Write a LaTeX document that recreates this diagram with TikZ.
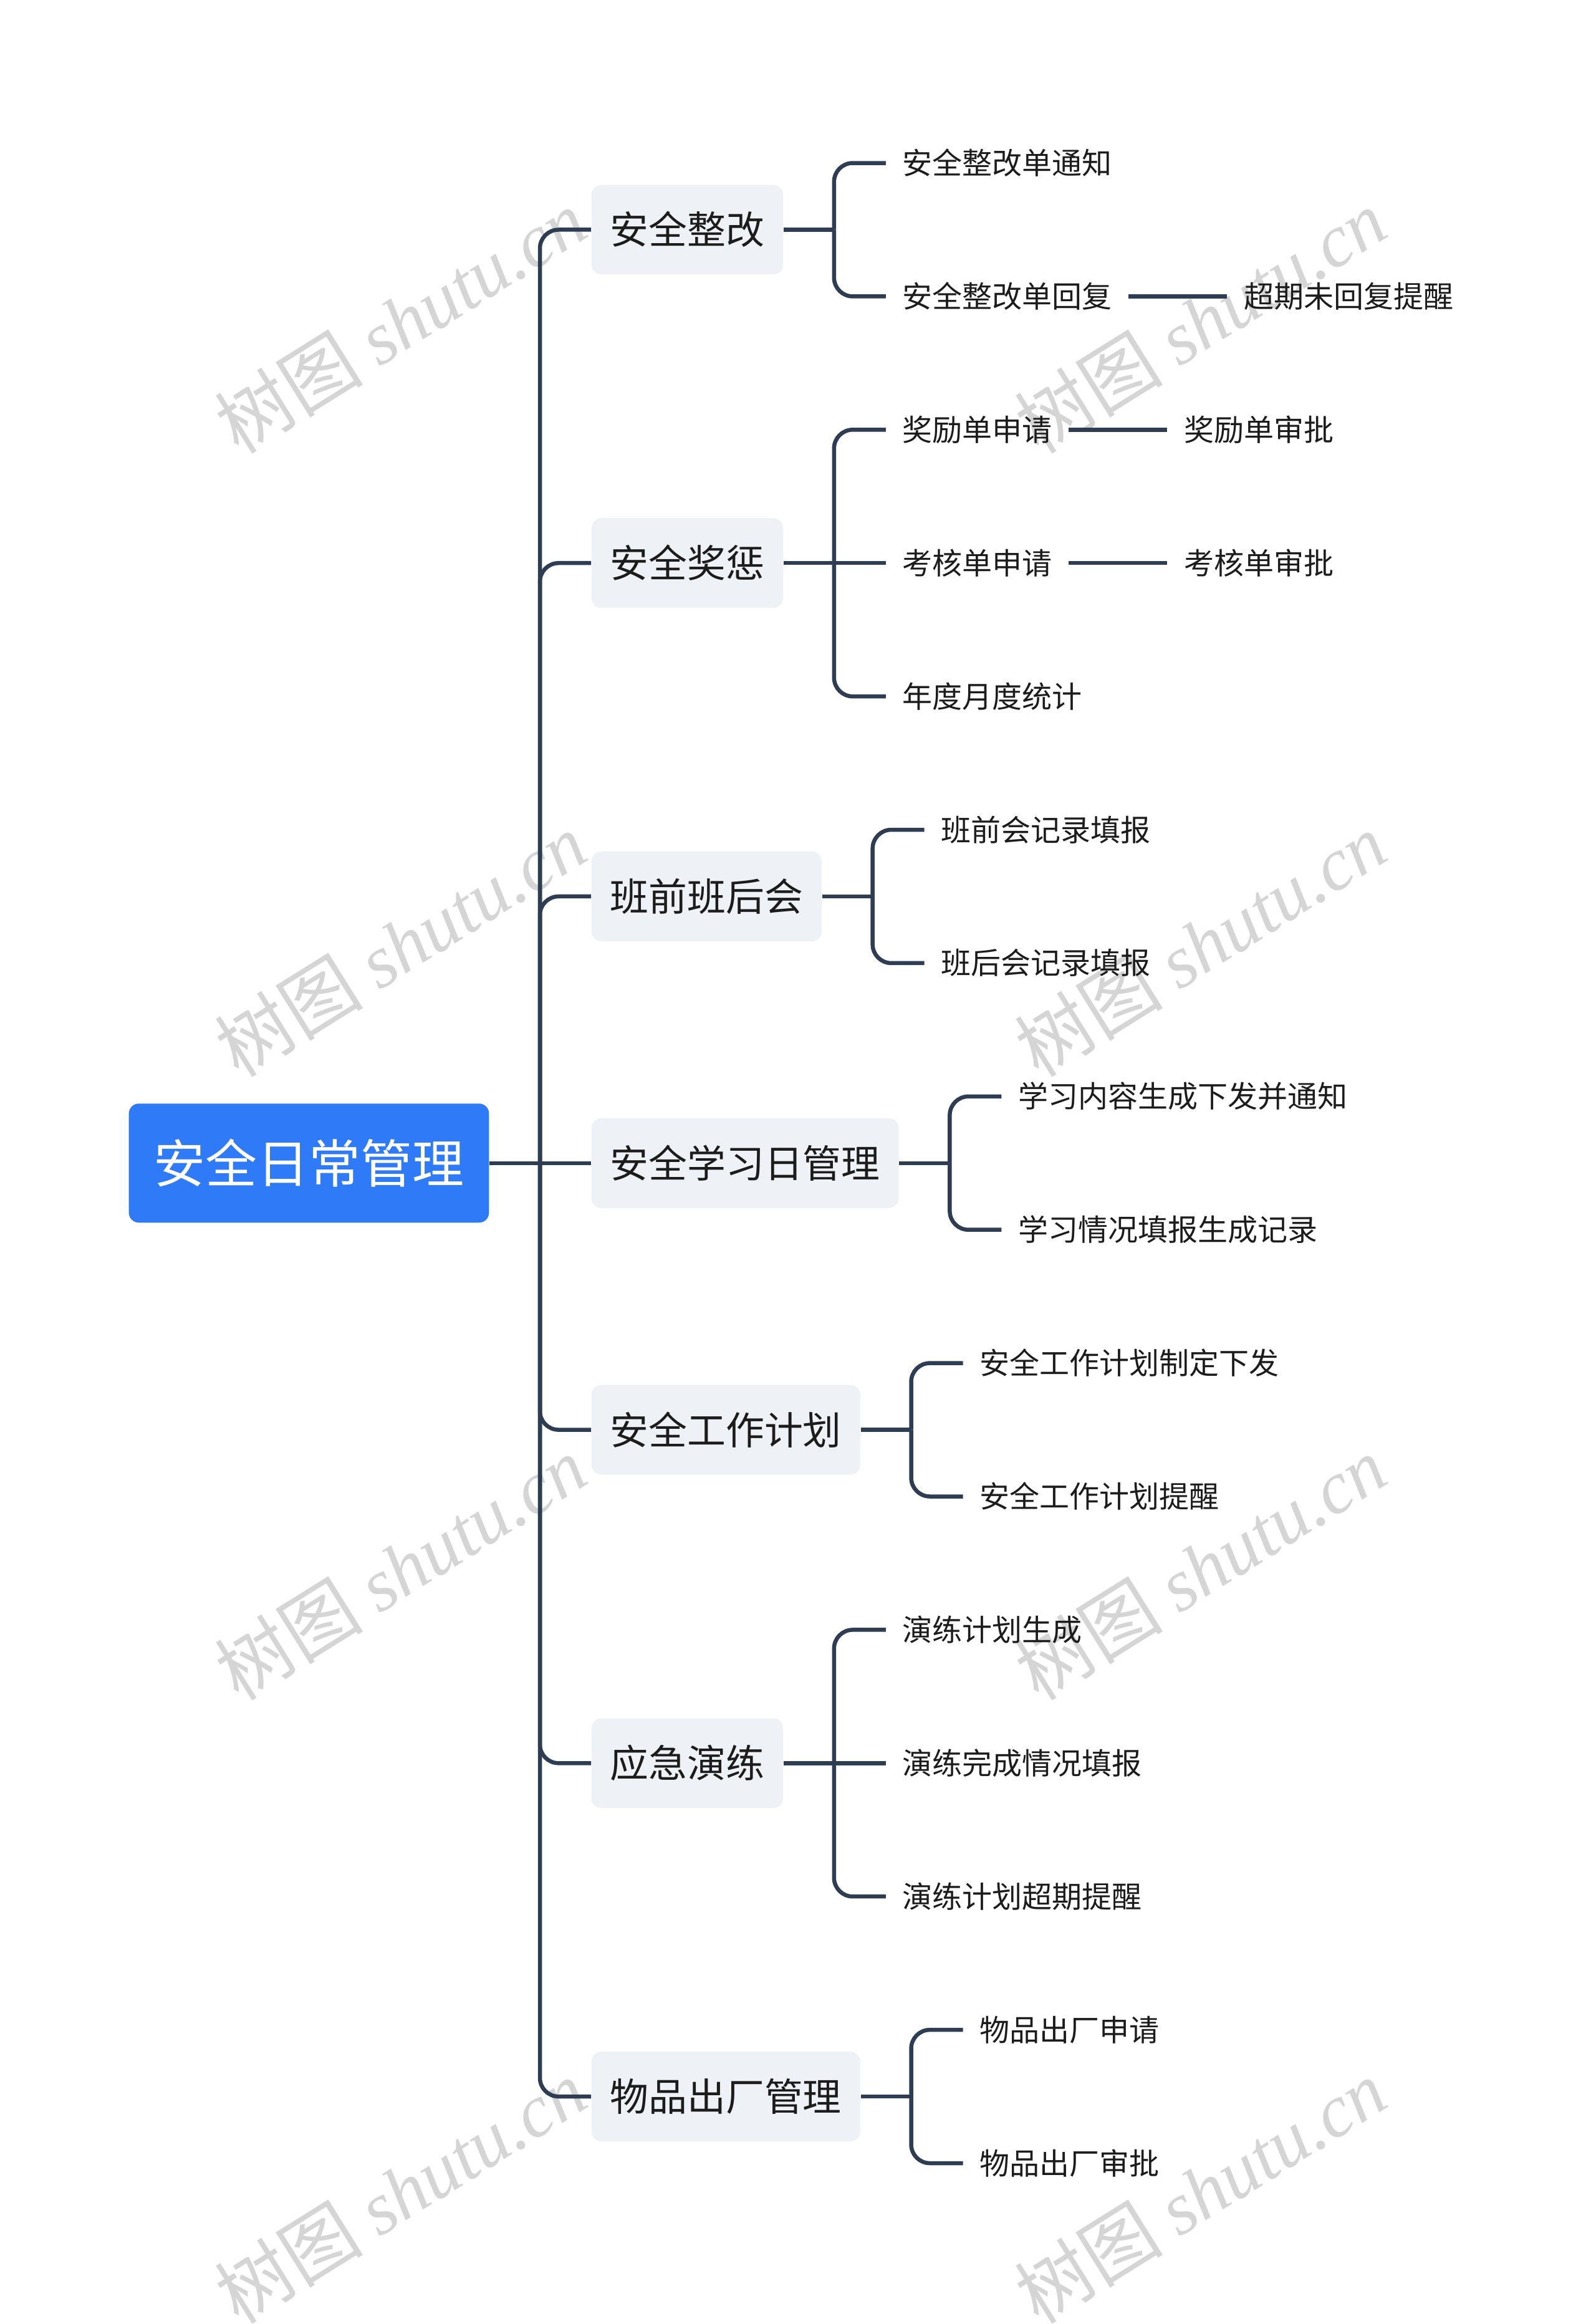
\documentclass[tikz,border=0pt]{standalone}
\usepackage{fontspec}
\usepackage{xcolor}
\usepackage{tikz}
\usetikzlibrary{calc,positioning}
\newfontfamily\cjk{Noto Sans CJK SC}
\newfontfamily\wmserif{Liberation Serif}
\definecolor{mapblue}{HTML}{2F7BF7}
\definecolor{mapline}{HTML}{2E3D52}
\definecolor{mapfill}{HTML}{EEF1F5}
\definecolor{maptext}{HTML}{1C1C1C}
\definecolor{mapmark}{HTML}{D5D5D5}
\tikzset{
rootbox/.style={
	rounded corners=0.16cm,
	fill=mapblue,
	text=white,
	inner xsep=0.40cm,
	minimum height=1.91cm,
	text height=0.73cm, text depth=0.10cm,
	font=\cjk\fontsize{23.6}{28}\selectfont
},
topicbox/.style={
	rounded corners=0.16cm,
	fill=mapfill,
	text=maptext,
	inner xsep=0.30cm,
	minimum height=1.44cm,
	text height=0.545cm, text depth=0.075cm,
	font=\cjk\fontsize{17.6}{21}\selectfont
},
leafbox/.style={
	text=maptext,
	inner xsep=0.26cm, inner ysep=0.08cm,
	text height=0.42cm, text depth=0.06cm,
	font=\cjk\fontsize{13.66}{16}\selectfont
},
branch/.style={draw=mapline, line width=0.065cm, rounded corners=0.3cm},
watermark/.style={text=mapmark, rotate=32, inner sep=0pt, font=\fontsize{34}{40}\selectfont}
}

\begin{document}
\begin{tikzpicture}[x=1cm,y=1cm]
\useasboundingbox (0,0) rectangle (25.6,-37.28);
\def\hr{1.0695} % half leaf row
\def\fr{2.139}  % full leaf row
\def\stem{0.81} % topic -> fork
\def\reach{0.83} % fork -> leaf

% ── Watermarks (behind everything) ─────────────────────────────
\foreach \wy in {0,1,2,3}{
 \foreach \wx [count=\wi] in {6.42,19.25}{
  \node[watermark] (wm\wi\wy) at (\wx,-5.15-10*\wy)
   {\cjk 树图 \wmserif\itshape shutu.cn};
 }
}

% ── Root and spine ─────────────────────────────────────────────
\node[rootbox] (root) at (4.955,-18.6575) {安全日常管理};
\coordinate (spine) at (8.66,-18.6575);

% ── Topics ─────────────────────────────────────────────────────
\node[topicbox,anchor=west] (zg) at (9.48,-3.6845) {安全整改};
\node[topicbox,anchor=west] (jc) at (9.48,-9.032) {安全奖惩};
\node[topicbox,anchor=west] (bq) at (9.48,-14.3795) {班前班后会};
\node[topicbox,anchor=west] (xx) at (9.48,-18.6575) {安全学习日管理};
\node[topicbox,anchor=west] (jh) at (9.48,-22.9355) {安全工作计划};
\node[topicbox,anchor=west] (yj) at (9.48,-28.283) {应急演练};
\node[topicbox,anchor=west] (wp) at (9.48,-33.6305) {物品出厂管理};

\draw[branch] (root.east) -- (xx.west);
\foreach \t in {zg,jc,bq,jh,yj,wp}
 \draw[branch] (spine) |- (\t.west);

% ── Fork points ────────────────────────────────────────────────
\foreach \t in {zg,jc,bq,xx,jh,yj,wp}
 \coordinate (f\t) at ([xshift=\stem cm]\t.east);

% ── Leaves ─────────────────────────────────────────────────────
\node[leafbox,anchor=west] (zg1) at ($(fzg)+(\reach,\hr)$) {安全整改单通知};
\node[leafbox,anchor=west] (zg2) at ($(fzg)+(\reach,-\hr)$) {安全整改单回复};
\node[leafbox,right=1.58cm of zg2] (zg2a) {超期未回复提醒};

\node[leafbox,anchor=west] (jc1) at ($(fjc)+(\reach,\fr)$) {奖励单申请};
\node[leafbox,right=1.58cm of jc1] (jc1a) {奖励单审批};
\node[leafbox,anchor=west] (jc2) at ($(fjc)+(\reach,0)$) {考核单申请};
\node[leafbox,right=1.58cm of jc2] (jc2a) {考核单审批};
\node[leafbox,anchor=west] (jc3) at ($(fjc)+(\reach,-\fr)$) {年度月度统计};

\node[leafbox,anchor=west] (bq1) at ($(fbq)+(\reach,\hr)$) {班前会记录填报};
\node[leafbox,anchor=west] (bq2) at ($(fbq)+(\reach,-\hr)$) {班后会记录填报};

\node[leafbox,anchor=west] (xx1) at ($(fxx)+(\reach,\hr)$) {学习内容生成下发并通知};
\node[leafbox,anchor=west] (xx2) at ($(fxx)+(\reach,-\hr)$) {学习情况填报生成记录};

\node[leafbox,anchor=west] (jh1) at ($(fjh)+(\reach,\hr)$) {安全工作计划制定下发};
\node[leafbox,anchor=west] (jh2) at ($(fjh)+(\reach,-\hr)$) {安全工作计划提醒};

\node[leafbox,anchor=west] (yj1) at ($(fyj)+(\reach,\fr)$) {演练计划生成};
\node[leafbox,anchor=west] (yj2) at ($(fyj)+(\reach,0)$) {演练完成情况填报};
\node[leafbox,anchor=west] (yj3) at ($(fyj)+(\reach,-\fr)$) {演练计划超期提醒};

\node[leafbox,anchor=west] (wp1) at ($(fwp)+(\reach,\hr)$) {物品出厂申请};
\node[leafbox,anchor=west] (wp2) at ($(fwp)+(\reach,-\hr)$) {物品出厂审批};

% ── Leaf connectors ────────────────────────────────────────────
\foreach \t in {zg,bq,xx,jh,wp}
 \draw[branch] (\t.east) -- (f\t);
\draw[branch] (jc.east) -- (jc2.west);
\draw[branch] (yj.east) -- (yj2.west);

\foreach \t/\l in {zg/zg1,zg/zg2,jc/jc1,jc/jc3,bq/bq1,bq/bq2,
 xx/xx1,xx/xx2,jh/jh1,jh/jh2,yj/yj1,yj/yj3,wp/wp1,wp/wp2}
 \draw[branch] (f\t) |- (\l.west);

\foreach \a/\b in {zg2/zg2a,jc1/jc1a,jc2/jc2a}
 \draw[branch] (\a.east) -- (\b.west);
\end{tikzpicture}
\end{document}
